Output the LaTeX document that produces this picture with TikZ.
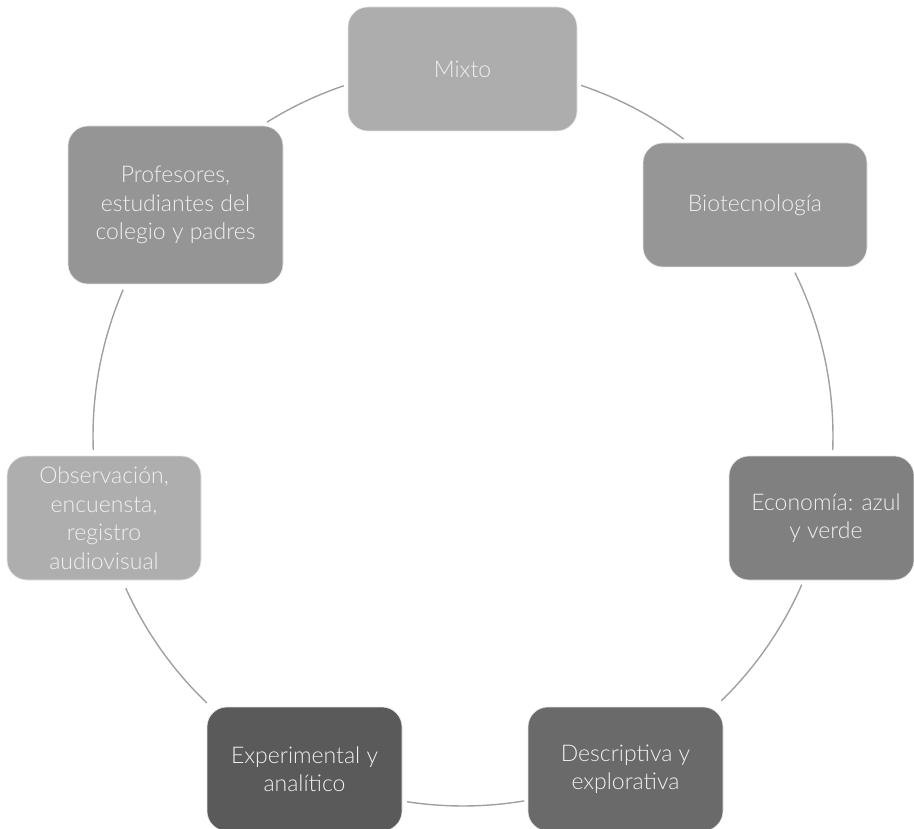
\documentclass[tikz,border=0pt]{standalone}
\usepackage{fontspec}
\setmainfont{Lato Light}
\definecolor{cA}{HTML}{ADADAD}
\definecolor{cB}{HTML}{969696}
\definecolor{cC}{HTML}{808080}
\definecolor{cD}{HTML}{6A6A6A}
\definecolor{cE}{HTML}{5A5A5A}
\definecolor{cF}{HTML}{AEAEAE}
\definecolor{cG}{HTML}{959595}
\definecolor{txt}{HTML}{F0F0F0}
\definecolor{arcgray}{HTML}{A0A0A0}
\begin{document}
\begin{tikzpicture}[x=1pt,y=-1pt,
  box/.style={rectangle, rounded corners=20pt, draw=white!80!gray, line width=0.6pt,
    inner sep=0pt, align=center, text=txt, font=\fontsize{23}{28.5}\selectfont},
  link/.style={draw=arcgray, line width=1.4pt}]
\useasboundingbox (0,0) rectangle (914,829);
\coordinate (c) at (463,436);
% boxes
\node[box, fill=cA, minimum width=229pt, minimum height=124pt] (mixto) at (462.5,69) {Mixto};
\node[box, fill=cB, minimum width=224pt, minimum height=124pt] (bio) at (755,205) {Biotecnología};
\node[box, fill=cC, minimum width=185pt, minimum height=124pt] (eco) at (821.5,518) {\hspace*{9pt}Economía: azul\\\hspace*{9pt}y verde};
\node[box, fill=cD, minimum width=195pt, minimum height=124pt] (desc) at (625.5,769) {Descriptiva y\\explorativa};
\node[box, fill=cE, minimum width=195pt, minimum height=124pt] (exp) at (304.5,769) {Experimental y\\analítico};
\node[box, fill=cF, minimum width=194pt, minimum height=124pt] (obs) at (104,518) {Observación,\\encuensta,\\registro\\audiovisual};
\node[box, fill=cG, minimum width=215pt, minimum height=158pt] (prof) at (175.5,205) {Profesores,\\estudiantes del\\colegio y padres};
% arc end points on the circle (centre c, radius 370)
\path (c) ++(71.4:370pt) coordinate (s1) (c) ++(53.4:370pt) coordinate (e1);
\path (c) ++(26.2:370pt) coordinate (s2) (c) ++(-2.2:370pt) coordinate (e2);
\path (c) ++(-23.7:370pt) coordinate (s3) (c) ++(-45.7:370pt) coordinate (e3);
\path (c) ++(-80.5:370pt) coordinate (s4) (c) ++(-98.7:370pt) coordinate (e4);
\path (c) ++(-133.8:370pt) coordinate (s5) (c) ++(-155.7:370pt) coordinate (e5);
\path (c) ++(-177.8:370pt) coordinate (s6) (c) ++(-203.3:370pt) coordinate (e6);
\path (c) ++(122:370pt) coordinate (s7) (c) ++(108.8:370pt) coordinate (e7);
% connectors
\draw[link] (s1) arc[start angle=71.4, end angle=53.4, radius=370pt];
\draw[link] (s2) arc[start angle=26.2, end angle=-2.2, radius=370pt];
\draw[link] (s3) arc[start angle=-23.7, end angle=-45.7, radius=370pt];
\draw[link] (s4) arc[start angle=-80.5, end angle=-98.7, radius=370pt];
\draw[link] (s5) arc[start angle=-133.8, end angle=-155.7, radius=370pt];
\draw[link] (s6) arc[start angle=-177.8, end angle=-203.3, radius=370pt];
\draw[link] (s7) arc[start angle=122, end angle=108.8, radius=370pt];
\end{tikzpicture}
\end{document}
